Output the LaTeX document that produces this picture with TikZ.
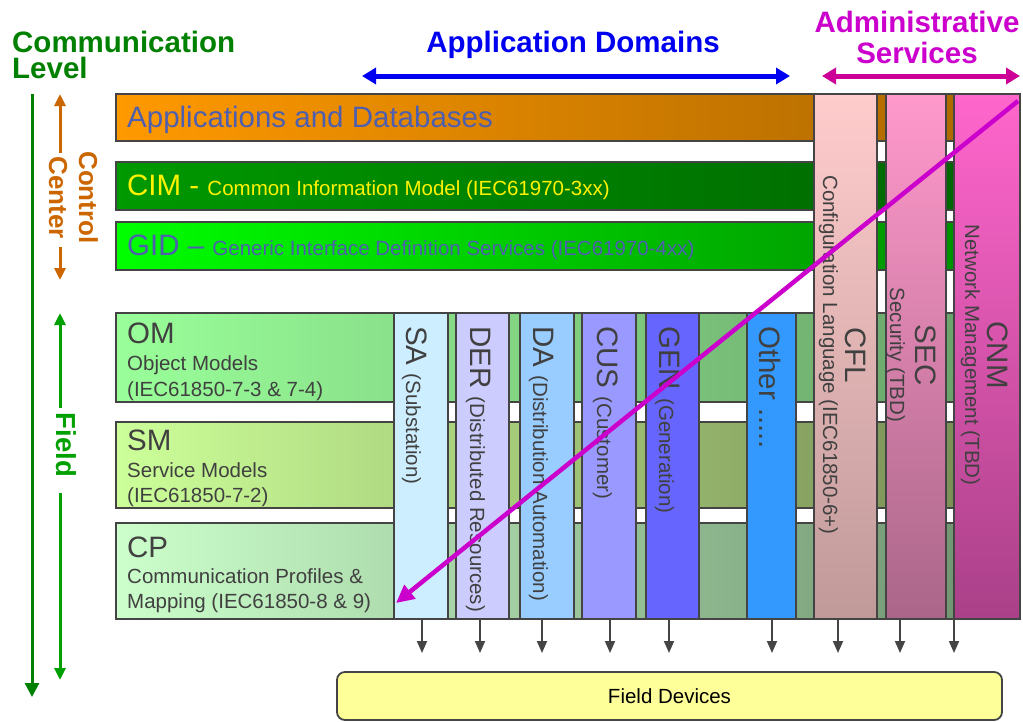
\documentclass[tikz,border=0pt]{standalone}
\usepackage{fontspec}
\setmainfont{Liberation Sans}
\usetikzlibrary{arrows.meta}
\definecolor{linegray}{HTML}{444444}
\definecolor{txtgray}{HTML}{404040}
\definecolor{slate}{RGB}{79,95,175}
\definecolor{cgreen}{RGB}{0,128,0}
\definecolor{fgreen}{RGB}{0,160,0}
\definecolor{corange}{RGB}{204,102,0}
\definecolor{cmag}{RGB}{204,0,204}
\definecolor{amag}{RGB}{204,0,150}
\definecolor{cblue}{RGB}{0,0,240}
\definecolor{appL}{HTML}{FF9900}\definecolor{appR}{HTML}{AA6600}
\definecolor{cimL}{HTML}{009900}\definecolor{cimR}{HTML}{006400}
\definecolor{gidL}{HTML}{00FF00}\definecolor{gidR}{HTML}{008A00}
\definecolor{omL}{RGB}{153,255,153}\definecolor{omR}{RGB}{104,158,104}
\definecolor{smL}{RGB}{204,255,153}\definecolor{smR}{RGB}{116,136,81}
\definecolor{cpL}{RGB}{204,255,204}\definecolor{cpR}{RGB}{108,143,108}
\definecolor{saC}{RGB}{204,238,255}
\definecolor{derC}{RGB}{204,204,255}
\definecolor{daC}{RGB}{153,204,255}
\definecolor{cusC}{RGB}{153,153,255}
\definecolor{genC}{RGB}{102,102,255}
\definecolor{othC}{RGB}{51,153,255}
\definecolor{cflT}{RGB}{255,204,204}\definecolor{cflB}{RGB}{192,153,153}
\definecolor{secT}{RGB}{255,153,204}\definecolor{secB}{RGB}{170,102,136}
\definecolor{cnmT}{RGB}{255,102,204}\definecolor{cnmB}{RGB}{170,64,136}
\definecolor{fdC}{RGB}{255,255,153}
\newcommand{\BigT}{\fontsize{29.5}{34}\selectfont}
\newcommand{\SmT}{\fontsize{20.5}{25}\selectfont}
\begin{document}
\begin{tikzpicture}[x=1pt,y=-1pt,
  box/.style={draw=linegray, line width=1.8pt, anchor=north west, outer sep=0pt, inner sep=0pt},
  hdr/.style={font=\bfseries\fontsize{29.5}{32}\selectfont, inner sep=0pt},
  rowtxt/.style={anchor=base west, inner sep=0pt},
  coltxt/.style={rotate=-90, anchor=base west, inner sep=0pt, text=txtgray},
  admtxt/.style={rotate=-90, anchor=base, inner sep=0pt, text=txtgray},
  sidetxt/.style={rotate=-90, anchor=base, inner sep=0pt, font=\bfseries\fontsize{26}{30}\selectfont},
  dnarrow/.style={draw=linegray, line width=1.8pt, -{Triangle[width=10pt,length=12pt]}},
  sidearrow/.style={line width=3pt, -{Triangle[width=11pt,length=12pt]}},
  toparrow/.style={line width=5pt, {Triangle[width=16pt,length=14pt]}-{Triangle[width=16pt,length=14pt]}},
]
\useasboundingbox (0,0) rectangle (1023,721);

% headers
\node[hdr, font=\bfseries\fontsize{29.5}{26}\selectfont, text=cgreen, anchor=north west, align=left] (comm) at (12,30.5) {Communication\\Level};
\node[hdr, text=cblue, anchor=base] (appdom) at (573,52) {Application Domains};
\node[hdr, font=\bfseries\fontsize{29.5}{31}\selectfont, text=cmag, anchor=north, align=center] (admin) at (917,10.5) {Administrative\\Services};

\coordinate (ad1) at (362,76); \coordinate (ad2) at (790,76);
\draw[toparrow, cblue] (ad1) -- (ad2);
\coordinate (as1) at (822,76); \coordinate (as2) at (1020,76);
\draw[toparrow, amag] (as1) -- (as2);

% horizontal bars
\node[box, minimum width=902, minimum height=47, left color=appL, right color=appR] (app) at (116,94) {};
\node[box, minimum width=902, minimum height=48, left color=cimL, right color=cimR] (cim) at (116,162) {};
\node[box, minimum width=902, minimum height=48, left color=gidL, right color=gidR] (gid) at (116,222) {};
\node[box, minimum width=902, minimum height=89, left color=omL, right color=omR] (om) at (116,313) {};
\node[box, minimum width=902, minimum height=86, left color=smL, right color=smR] (sm) at (116,422) {};
\node[box, minimum width=902, minimum height=96, left color=cpL, right color=cpR] (cp) at (116,523) {};

\node[rowtxt, text=slate, font=\BigT] (apptxt) at (127,127) {Applications and Databases};
\node[rowtxt, text=yellow] (cimtxt) at (127,195) {\BigT CIM - \SmT Common Information Model (IEC61970-3xx)};
\node[rowtxt, text=slate] (gidtxt) at (127,255) {\BigT GID -- \SmT Generic Interface Definition Services (IEC61970-4xx)};

\node[rowtxt, text=txtgray, font=\BigT] (om1) at (127,343) {OM};
\node[rowtxt, text=txtgray, font=\SmT] (om2) at (127,370) {Object Models};
\node[rowtxt, text=txtgray, font=\SmT] (om3) at (127,396) {(IEC61850-7-3 \& 7-4)};
\node[rowtxt, text=txtgray, font=\BigT] (sm1) at (127,450) {SM};
\node[rowtxt, text=txtgray, font=\SmT] (sm2) at (127,477) {Service Models};
\node[rowtxt, text=txtgray, font=\SmT] (sm3) at (127,502) {(IEC61850-7-2)};
\node[rowtxt, text=txtgray, font=\BigT] (cp1) at (127,557) {CP};
\node[rowtxt, text=txtgray, font=\SmT] (cp2) at (127,583) {Communication Profiles \&};
\node[rowtxt, text=txtgray, font=\SmT] (cp3) at (127,608) {Mapping (IEC61850-8 \& 9)};

% domain columns
\node[box, minimum width=54, minimum height=306, fill=saC] (sa) at (394,313) {};
\node[box, minimum width=53, minimum height=306, fill=derC] (der) at (456,313) {};
\node[box, minimum width=54, minimum height=306, fill=daC] (da) at (520,313) {};
\node[box, minimum width=54, minimum height=306, fill=cusC] (cus) at (582,313) {};
\node[box, minimum width=53, minimum height=306, fill=genC] (gen) at (646,313) {};
\node[box, minimum width=49, minimum height=306, fill=othC] (oth) at (747,313) {};
% admin columns
\node[box, minimum width=63, minimum height=525, top color=cflT, bottom color=cflB] (cfl) at (814,94) {};
\node[box, minimum width=60, minimum height=525, top color=secT, bottom color=secB] (sec) at (886,94) {};
\node[box, minimum width=66, minimum height=525, top color=cnmT, bottom color=cnmB] (cnm) at (954,94) {};

\node[coltxt] (satxt) at (406,326) {\BigT SA \SmT (Substation)};
\node[coltxt] (dertxt) at (470,326) {\BigT DER \SmT (Distributed Resources)};
\node[coltxt] (datxt) at (533,326) {\BigT DA \SmT (Distribution Automation)};
\node[coltxt] (custxt) at (597,326) {\BigT CUS \SmT (Customer)};
\node[coltxt] (gentxt) at (659,326) {\BigT GEN \SmT (Generation)};
\node[coltxt] (othtxt) at (759,326) {\BigT Other .....};

\node[admtxt, font=\BigT] (cfl1) at (845,355) {CFL};
\node[admtxt, font=\SmT] (cfl2) at (823,355) {Configuration Language (IEC61850-6+)};
\node[admtxt, font=\BigT] (sec1) at (915,355) {SEC};
\node[admtxt, font=\SmT] (sec2) at (890,355) {Security (TBD)};
\node[admtxt, font=\BigT] (cnm1) at (987,355) {CNM};
\node[admtxt, font=\SmT] (cnm2) at (965,355) {Network Management (TBD)};

% field devices
\node[draw=linegray, line width=1.8pt, fill=fdC, rounded corners=8pt, minimum width=665, minimum height=48, inner sep=0pt, font=\SmT] (fd) at (669.5,696) {Field Devices};
\foreach \n/\x in {sa/422, der/480, da/542, cus/610, gen/669, oth/772, cfl/838, sec/900, cnm/954}{
  \coordinate (t\n) at (\x,653);
  \draw[dnarrow] (t\n |- \n.south) -- (t\n);
}

% side annotations
\coordinate (lv1) at (32,94); \coordinate (lv2) at (32,697);
\draw[sidearrow, cgreen, -{Triangle[width=14pt,length=14pt]}] (lv1) -- (lv2);
\node[sidetxt, text=corange] (ctrl1) at (79,197.5) {Control};
\node[sidetxt, text=corange] (ctrl2) at (49,197.5) {Center};
\coordinate (cc1) at (60,153); \coordinate (cc2) at (60,94);
\coordinate (cc3) at (60,247); \coordinate (cc4) at (60,280);
\draw[sidearrow, corange] (cc1) -- (cc2);
\draw[sidearrow, corange] (cc3) -- (cc4);
\node[sidetxt, text=fgreen, font=\bfseries\fontsize{27.5}{30}\selectfont] (fieldtxt) at (56,445) {Field};
\coordinate (fa1) at (60,408); \coordinate (fa2) at (60,313);
\coordinate (fa3) at (60,493); \coordinate (fa4) at (60,680);
\draw[sidearrow, fgreen] (fa1) -- (fa2);
\draw[sidearrow, fgreen] (fa3) -- (fa4);

% diagonal
\coordinate (dg1) at (1018,101); \coordinate (dg2) at (396,603);
\draw[cmag, line width=4.5pt, -{Triangle[width=17pt,length=18pt]}] (dg1) -- (dg2);
\end{tikzpicture}
\end{document}
